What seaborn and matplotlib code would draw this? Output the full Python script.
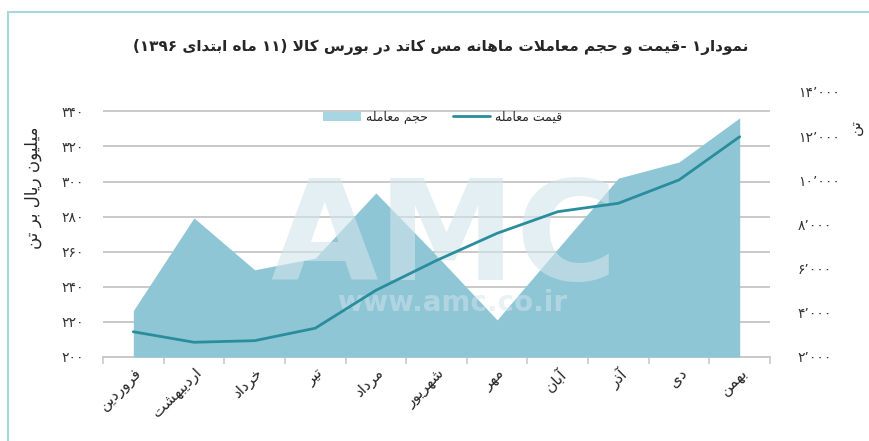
import re
import numpy as np
import pandas as pd
import seaborn as sns
import matplotlib.pyplot as plt
from matplotlib.patches import Rectangle, Patch
from matplotlib.lines import Line2D

# --- data ---
months = ['فروردین', 'اردیبهشت', 'خرداد', 'تیر', 'مرداد', 'شهریور',
          'مهر', 'آبان', 'آذر', 'دی', 'بهمن']
volume = [4100, 8300, 5950, 6480, 9430, 6600, 3680, 6900, 10100, 10830, 12830]  # تن
price = [214.4, 208.4, 209.3, 216.4, 238, 255, 270.5, 282.8, 287.6, 300.9, 325.5]  # میلیون ریال بر تن
left_ticks = [200, 220, 240, 260, 280, 300, 320, 340]
right_ticks = [2000, 4000, 6000, 8000, 10000, 12000, 14000]

title = 'نمودار۱ -قیمت و حجم معاملات ماهانه مس کاتد در بورس کالا (۱۱ ماه ابتدای ۱۳۹۶)'
ylabel_left = 'میلیون ریال بر تن'
ylabel_right = 'تن'
lbl_volume = 'حجم معامله'
lbl_price = 'قیمت معامله'

# --- minimal persian shaping (matplotlib has no arabic text layout) ---
DUAL = {
    'ب': (0xFE8F, 0xFE90, 0xFE91, 0xFE92), 'پ': (0xFB56, 0xFB57, 0xFB58, 0xFB59),
    'ت': (0xFE95, 0xFE96, 0xFE97, 0xFE98), 'ث': (0xFE99, 0xFE9A, 0xFE9B, 0xFE9C),
    'ج': (0xFE9D, 0xFE9E, 0xFE9F, 0xFEA0), 'چ': (0xFB7A, 0xFB7B, 0xFB7C, 0xFB7D),
    'ح': (0xFEA1, 0xFEA2, 0xFEA3, 0xFEA4), 'خ': (0xFEA5, 0xFEA6, 0xFEA7, 0xFEA8),
    'س': (0xFEB1, 0xFEB2, 0xFEB3, 0xFEB4), 'ش': (0xFEB5, 0xFEB6, 0xFEB7, 0xFEB8),
    'ص': (0xFEB9, 0xFEBA, 0xFEBB, 0xFEBC), 'ض': (0xFEBD, 0xFEBE, 0xFEBF, 0xFEC0),
    'ط': (0xFEC1, 0xFEC2, 0xFEC3, 0xFEC4), 'ظ': (0xFEC5, 0xFEC6, 0xFEC7, 0xFEC8),
    'ع': (0xFEC9, 0xFECA, 0xFECB, 0xFECC), 'غ': (0xFECD, 0xFECE, 0xFECF, 0xFED0),
    'ف': (0xFED1, 0xFED2, 0xFED3, 0xFED4), 'ق': (0xFED5, 0xFED6, 0xFED7, 0xFED8),
    'ک': (0xFB8E, 0xFB8F, 0xFB90, 0xFB91), 'گ': (0xFB92, 0xFB93, 0xFB94, 0xFB95),
    'ل': (0xFEDD, 0xFEDE, 0xFEDF, 0xFEE0), 'م': (0xFEE1, 0xFEE2, 0xFEE3, 0xFEE4),
    'ن': (0xFEE5, 0xFEE6, 0xFEE7, 0xFEE8), 'ه': (0xFEE9, 0xFEEA, 0xFEEB, 0xFEEC),
    'ی': (0xFBFC, 0xFBFD, 0xFBFE, 0xFBFF),
}
RIGHT = {
    'ا': (0xFE8D, 0xFE8E), 'آ': (0xFE81, 0xFE82), 'د': (0xFEA9, 0xFEAA),
    'ذ': (0xFEAB, 0xFEAC), 'ر': (0xFEAD, 0xFEAE), 'ز': (0xFEAF, 0xFEB0),
    'ژ': (0xFB8A, 0xFB8B), 'و': (0xFEED, 0xFEEE),
}


def shape(s):
    out = []
    i = 0
    n = len(s)
    while i < n:
        c = s[i]
        prev_j = i > 0 and s[i - 1] in DUAL
        if c == 'ل' and i + 1 < n and s[i + 1] in 'اآ':
            out.append(chr(0xFEFC if prev_j else 0xFEFB))
            i += 2
            continue
        if c in DUAL:
            next_j = i + 1 < n and (s[i + 1] in DUAL or s[i + 1] in RIGHT)
            f = DUAL[c]
            out.append(chr(f[3] if prev_j and next_j else f[1] if prev_j else f[2] if next_j else f[0]))
        elif c in RIGHT:
            out.append(chr(RIGHT[c][1] if prev_j else RIGHT[c][0]))
        else:
            out.append(c)
        i += 1
    return ''.join(out)


def fa(s):
    s = shape(s)
    toks = re.findall(r'[۰-۹0-9٬]+|[^۰-۹0-9٬]+', s)
    mirror = str.maketrans('()', ')(')
    vis = []
    for t in reversed(toks):
        if re.match(r'[۰-۹0-9٬]', t):
            vis.append(t)
        else:
            vis.append(t[::-1].translate(mirror))
    return ''.join(vis)


def fa_num(v, sep=False):
    txt = f'{v:,}' if sep else str(v)
    return txt.translate(str.maketrans('0123456789,', '۰۱۲۳۴۵۶۷۸۹٬'))


df = pd.DataFrame({'idx': np.arange(len(months)), 'month': months,
                   'volume': volume, 'price': price})

sns.set_style('white')
plt.rcParams['font.family'] = ['DejaVu Sans']

area_c = '#8fc6d6'
line_c = '#2a8d9d'
grid_c = '#c9c9c9'

fig = plt.figure(figsize=(8.7, 4.41), dpi=100)
pos = [103 / 870, 1 - 357 / 441, (770 - 103) / 870, (357 - 92) / 441]
ax = fig.add_axes(pos)
ax2 = ax.twinx()
ax3 = ax.twinx()

# left axis: price scale + grid
ax.set_xlim(-0.5, len(months) - 0.5)
ax.set_ylim(200, 351)
ax.set_yticks(left_ticks)
ax.set_yticklabels([fa_num(v) for v in left_ticks], fontsize=10, color='#333333')
ax.tick_params(axis='y', length=0, pad=14)
for v in left_ticks:
    ax.axhline(v, color=grid_c, lw=1.4, zorder=0)
ax.set_xticks(df['idx'])
ax.set_xticklabels([fa(m) for m in months], rotation=45, ha='right',
                   rotation_mode='anchor', fontsize=11)
ax.set_xticks(np.arange(-0.5, len(months)), minor=True)
ax.tick_params(axis='x', which='major', length=0, pad=6)
ax.tick_params(axis='x', which='minor', length=5, color=grid_c, width=1.2, direction='out', bottom=True)
for sp in ['left', 'right', 'top']:
    ax.spines[sp].set_visible(False)
ax.spines['bottom'].set_color(grid_c)
ax.spines['bottom'].set_linewidth(1.4)

# right axis: volume area
ax2.fill_between(df['idx'], 2000, df['volume'], color=area_c, lw=0)
ax2.set_ylim(2000, 14000)
ax2.set_yticks(right_ticks)
ax2.set_yticklabels([fa_num(v, True) for v in right_ticks], fontsize=10, color='#333333')
ax2.tick_params(axis='y', length=0, pad=20)
for sp in ax2.spines.values():
    sp.set_visible(False)
# watermark
ax2.text(0.51, 1 - 241 / 441, 'AMC', transform=fig.transFigure, fontsize=100, fontweight='bold',
         color='#d3e5eb', alpha=0.6, ha='center', va='center', zorder=5)
ax2.text(0.52, 1 - 303 / 441, 'www.amc.co.ir', transform=fig.transFigure, fontsize=20, fontweight='bold',
         color='#d3e5eb', alpha=0.5, ha='center', va='center', zorder=5)

# top axis: price line
sns.lineplot(data=df, x='idx', y='price', ax=ax3, color=line_c, lw=2.0)
ax3.set_ylim(ax.get_ylim())
ax3.set_xlim(ax.get_xlim())
ax3.axis('off')

handles = [Patch(facecolor='#a8d5e2', edgecolor='none'),
           Line2D([], [], color=line_c, lw=2.0)]
ax3.legend(handles, [fa(lbl_volume), fa(lbl_price)], ncol=2, frameon=False,
           loc='center', bbox_to_anchor=(443 / 870, 1 - 117 / 441),
           bbox_transform=fig.transFigure, fontsize=9, handlelength=3.0,
           columnspacing=2.0, handletextpad=0.4)

fig.text(441 / 870, 1 - 47 / 441, fa(title), fontsize=11, fontweight='bold',
         ha='center', va='center')
fig.text(33 / 870, 1 - 188 / 441, fa(ylabel_left), fontsize=12, rotation=90,
         ha='center', va='center')
fig.text(855 / 870, 1 - 127 / 441, fa(ylabel_right), fontsize=11, rotation=90,
         ha='center', va='center')

fig.patches.append(Rectangle((8 / 870, -0.01), 1.0, 1 - 12 / 441 + 0.01,
                             transform=fig.transFigure, fill=False,
                             edgecolor='#a5d9dd', lw=1.5))

fig.savefig('out.png', dpi=100)
